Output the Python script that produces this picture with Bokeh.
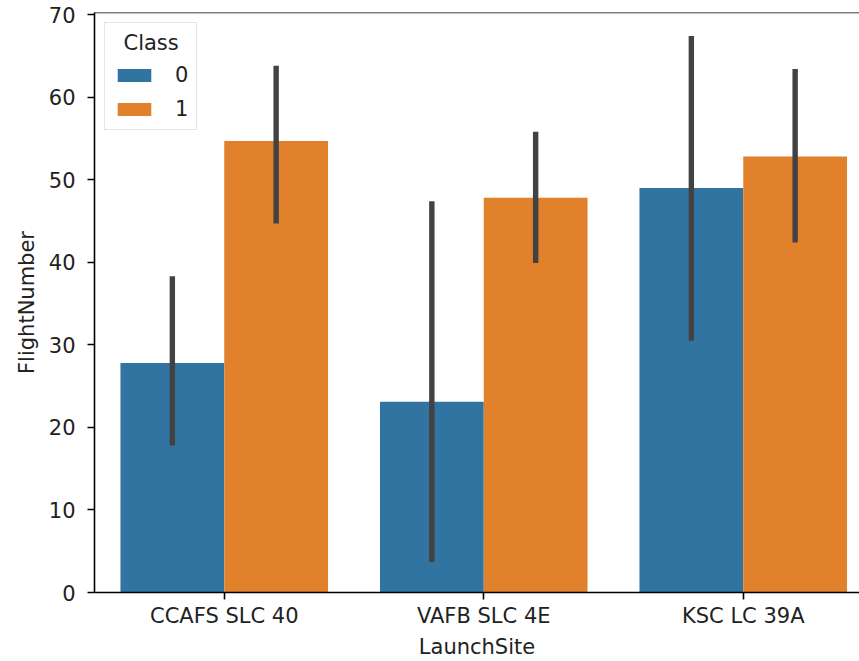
from bokeh.plotting import figure
from bokeh.models import ColumnDataSource, FixedTicker, Span, Legend, LegendItem
from bokeh.transform import dodge
from bokeh.embed import file_html
from bokeh.resources import INLINE

# ---- data ----
sites = ["CCAFS SLC 40", "VAFB SLC 4E", "KSC LC 39A"]
site_idx = [0, 1, 2]
class0_mean = [27.8, 23.1, 49.0]
class0_lo = [17.8, 3.7, 30.5]
class0_hi = [38.3, 47.4, 67.4]
class1_mean = [54.7, 47.8, 52.8]
class1_lo = [44.7, 39.9, 42.4]
class1_hi = [63.8, 55.8, 63.4]
y_ticks = [0, 10, 20, 30, 40, 50, 60, 70]
classes = ["0", "1"]

FONT = "DejaVu Sans"
FS = "21px"
C0 = "#3274a1"
C1 = "#e1812c"
ERR = "#424242"
TXT = "#222222"
Y_MAX = 70.25

src = ColumnDataSource(dict(x=site_idx, m0=class0_mean, lo0=class0_lo, hi0=class0_hi,
                            m1=class1_mean, lo1=class1_lo, hi1=class1_hi))

p = figure(width=859, height=661, x_range=(-0.5, 2.448), y_range=(0, Y_MAX),
           output_backend="svg", toolbar_location=None,
           min_border_left=94, min_border_top=12, min_border_right=0, min_border_bottom=69)

p.outline_line_color = None
p.grid.visible = False
p.background_fill_color = "white"

r0 = p.vbar(x=dodge("x", -0.2), top="m0", width=0.4, source=src, fill_color=C0, line_color=None)
r1 = p.vbar(x=dodge("x", 0.2), top="m1", width=0.4, source=src, fill_color=C1, line_color=None)
p.segment(x0=dodge("x", -0.2), x1=dodge("x", -0.2), y0="lo0", y1="hi0", source=src,
          line_color=ERR, line_width=5.4)
p.segment(x0=dodge("x", 0.2), x1=dodge("x", 0.2), y0="lo1", y1="hi1", source=src,
          line_color=ERR, line_width=5.4)

# top spine
p.add_layout(Span(location=Y_MAX, dimension="width", line_color="black", line_width=1.6))

for ax in (p.xaxis[0], p.yaxis[0]):
    ax.axis_line_color = "black"
    ax.axis_line_width = 1.6
    ax.major_tick_line_width = 1.6
    ax.major_tick_line_color = "black"
    ax.major_tick_out = 7
    ax.major_tick_in = 0
    ax.minor_tick_line_color = None
    ax.major_label_text_font = FONT
    ax.major_label_text_font_size = FS
    ax.major_label_text_color = TXT
    ax.axis_label_text_font = FONT
    ax.axis_label_text_font_size = FS
    ax.axis_label_text_font_style = "normal"
    ax.axis_label_text_color = TXT

p.xaxis.ticker = FixedTicker(ticks=site_idx)
p.xaxis.major_label_overrides = {i: s for i, s in zip(site_idx, sites)}
p.xaxis.axis_label = "LaunchSite"
p.xaxis.major_label_standoff = 4
p.xaxis.axis_label_standoff = 4

p.yaxis.ticker = FixedTicker(ticks=y_ticks)
p.yaxis.axis_label = "FlightNumber"
p.yaxis.major_label_standoff = 12
p.yaxis.axis_label_standoff = 7

legend = Legend(items=[LegendItem(label=classes[0], renderers=[r0]),
                       LegendItem(label=classes[1], renderers=[r1])],
                title="\u2002Class", location="top_left")
legend.title_text_font = FONT
legend.title_text_font_size = FS
legend.title_text_font_style = "normal"
legend.title_text_color = TXT
legend.title_standoff = 8
legend.label_text_font = FONT
legend.label_text_font_size = FS
legend.label_text_color = TXT
legend.label_width = 13
legend.glyph_width = 42
legend.glyph_height = 16
legend.label_standoff = 20
legend.padding = 8
legend.spacing = 10
legend.margin = 10
legend.border_line_color = "#cccccc"
legend.border_line_width = 1
legend.background_fill_alpha = 0.8
p.add_layout(legend)

open("out.html", "w").write(file_html(p, INLINE))
